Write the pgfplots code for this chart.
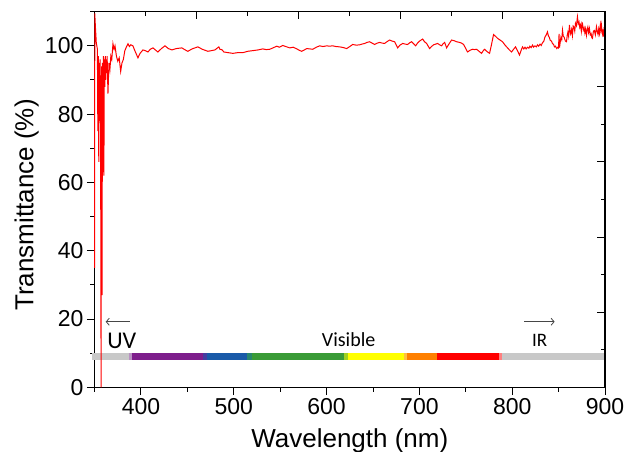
\documentclass[border=0pt]{standalone}
\usepackage{fontspec}
\setmainfont{Liberation Sans}
\newfontfamily\calibri{Carlito}
\usepackage{pgfplots}
\pgfplotsset{compat=1.18}
\usetikzlibrary{calc,arrows.meta}

\definecolor{bargray}{RGB}{200,200,200}
\definecolor{barlav}{RGB}{185,145,195}
\definecolor{barpurple}{RGB}{126,30,140}
\definecolor{barindigo}{RGB}{70,60,160}
\definecolor{barblue}{RGB}{26,90,168}
\definecolor{barteal}{RGB}{40,135,110}
\definecolor{bargreen}{RGB}{58,155,55}
\definecolor{barlime}{RGB}{160,208,32}
\definecolor{baryellow}{RGB}{255,255,0}
\definecolor{barlorange}{RGB}{255,192,64}
\definecolor{barorange}{RGB}{255,128,0}
\definecolor{barred}{RGB}{255,0,0}
\definecolor{barpink}{RGB}{255,128,128}
\definecolor{arrowgray}{RGB}{70,70,70}

\begin{document}
\begin{tikzpicture}
\begin{axis}[
    name=main, at={(0,0)}, anchor=south west,
    scale only axis, width=510.4pt, height=375.6pt,
    xmin=350, xmax=900, ymin=0, ymax=110,
    xtick={400,500,...,900}, minor xtick={350,450,...,850},
    ytick={0,20,...,100}, minor ytick={10,30,...,110},
    tick pos=left, tick align=outside,
    major tick length=7.7pt, minor tick length=4.3pt,
    every tick/.style={black,line width=1pt},
    axis line style={line width=1.3pt},
    tick label style={font=\fontsize{23}{26}\selectfont},
    /pgf/number format/assume math mode=true,
    xlabel={Wavelength (nm)}, ylabel={Transmittance (\%)},
    label style={font=\fontsize{26}{30}\selectfont},
    xlabel style={at={(axis description cs:0.5,-0.159)}, anchor=base},
    ylabel style={at={(axis description cs:-0.1201,0.4854)}, anchor=base},
    clip=false
]
    % spectrum bar
    \addplot[bargray,line width=7pt,forget plot] coordinates {(347.5,9)(386.7,9)};
    \addplot[barlav,line width=7pt,forget plot] coordinates {(386.7,9)(390.3,9)};
    \addplot[barpurple,line width=7pt,forget plot] coordinates {(390.3,9)(467,9)};
    \addplot[barindigo,line width=7pt,forget plot] coordinates {(467,9)(471,9)};
    \addplot[barblue,line width=7pt,forget plot] coordinates {(471,9)(514,9)};
    \addplot[barteal,line width=7pt,forget plot] coordinates {(514,9)(520,9)};
    \addplot[bargreen,line width=7pt,forget plot] coordinates {(520,9)(619,9)};
    \addplot[barlime,line width=7pt,forget plot] coordinates {(619,9)(623,9)};
    \addplot[baryellow,line width=7pt,forget plot] coordinates {(623,9)(683,9)};
    \addplot[barlorange,line width=7pt,forget plot] coordinates {(683,9)(686.5,9)};
    \addplot[barorange,line width=7pt,forget plot] coordinates {(686.5,9)(718.5,9)};
    \addplot[barred,line width=7pt,forget plot] coordinates {(718.5,9)(786,9)};
    \addplot[barpink,line width=7pt,forget plot] coordinates {(786,9)(789,9)};
    \addplot[bargray,line width=7pt,forget plot] coordinates {(789,9)(900,9)};

    \draw[arrowgray,line width=0.8pt,-{Straight Barb[length=3pt,width=7pt]}] (axis cs:388,19.2) -- (axis cs:362,19.2);
    \draw[arrowgray,line width=0.8pt,-{Straight Barb[length=3pt,width=7pt]}] (axis cs:813,19.2) -- (axis cs:845.7,19.2);
    \node[font=\calibri\fontsize{24}{28}\selectfont,anchor=base] at (axis cs:379.3,11.4) {UV};
    \node[font=\calibri\fontsize{20}{24}\selectfont,anchor=base] at (axis cs:623.8,12.0) {Visible};
    \node[font=\calibri\fontsize{19}{23}\selectfont,anchor=base] at (axis cs:829.5,12.0) {IR};

    % transmittance
    \addplot[red,line width=1pt] coordinates {
    (350.0,35) (350.2,109.5) (350.8,106) (351.8,101) (353.0,99) (353.5,75)
    (354.0,97) (354.5,66) (355.0,95) (355.5,78) (356.0,96) (356.5,70)
    (357.0,0) (357.5,94) (358.0,27) (358.5,95) (359.0,63) (359.5,97)
    (360.0,62) (360.5,96) (361.0,88) (361.5,97) (362.0,90) (362.5,96)
    (363.0,92) (363.5,97) (364.4,86) (365.5,95) (366.5,93) (367.5,97)
    (368.5,96) (369.8,100.6) (371,99) (372,100) (373.5,97) (375,95.5)
    (376.5,96.5) (378.1,92.5) (379.5,95) (381,96) (382.5,98.5) (384,99.5)
    (386,100.6) (387.5,99.8) (389,100.3) (391.3,100) (393.5,98.5) (396.7,96.5)
    (399,97.8) (402.1,98.8) (404.5,98.6) (407.5,98.2) (410,99) (412.9,99.4)
    (415.5,98.8) (418.2,98.2) (422,99.2) (425.8,100) (429.5,99.2) (433.3,98.8)
    (438,99.2) (444.1,99.4) (447,98.9) (450.5,98.4) (455,99.1) (461.3,99.7)
    (466,99) (472.1,98.4) (476,98.6) (479.6,98.8) (481.5,99.2) (483.9,99.7)
    (485,99) (487.1,98.9) (489.3,98.2) (494,98.0) (499.0,97.8) (504,98)
    (509.7,98) (515,98.4) (520.5,98.6) (526,98.8) (531.3,99.1) (535,98.9)
    (538.8,99) (543,99.5) (546.3,99.9) (549,99.6) (552.8,100.1) (557,99.7)
    (560.3,99.4) (564,99.6) (567.9,99.1) (570.5,98.7) (573.2,98.4) (576,98.8)
    (578.6,99.2) (582,99.1) (585.1,99.0) (589,99.6) (592.6,100.0) (596,99.8)
    (600.2,100) (603,99.9) (606.6,100) (610,99.8) (614.1,99.7) (618,99.5)
    (621.7,99.2) (625,99.8) (628.1,100.4) (632,100.2) (635.6,100.3) (638,100.5)
    (641.0,100.7) (643.5,101) (646.4,101.2) (649,100.8) (651.8,100.4) (654.5,100.8)
    (657.2,101) (660,100.8) (662.5,100.7) (665,101.2) (667.9,101.7) (670.5,101.4)
    (673.3,101.2) (676.6,99.4) (679,100.2) (682.0,100.7) (685,100.5) (687.3,100.4)
    (689.5,100.9) (691.6,101.2) (693.8,100.6) (695.9,100.0) (698,100.8) (700.2,101.4)
    (703.5,102) (705.5,101.2) (707.8,100.7) (709.5,99.9) (711.0,99.2) (713,99.8)
    (715.3,100.3) (717.5,100.5) (719.6,100.7) (721.8,100.3) (723.9,100) (725.5,100.6)
    (727.2,101) (728.3,100.2) (729.3,99.4) (732,100.6) (734.7,101.7) (737.5,101.5)
    (740.1,101.2) (743.3,101) (745.5,100.8) (747.6,100.4) (749.8,99.3) (751.9,98.2)
    (754.5,98.7) (757.3,99) (759.5,98.9) (761.6,99) (764.3,98.4) (767.0,97.8)
    (768.6,98.5) (770.2,99) (773,98.3) (775.6,97.8) (777.8,100.5) (779.9,103.3)
    (782,102.8) (784.2,102.2) (786.9,101.7) (789.6,101.2) (792.3,100.2) (795.0,99.4)
    (797,98.8) (799.3,98.2) (801.5,99) (803.6,99.7) (805.8,98.5) (807.9,97.3)
    (809.5,98.6) (811.1,99.7) (812.5,99.1) (813.8,99.6) (815,99.1) (816.5,99.6)
    (818,99.3) (819,99.9) (820.5,99.5) (821.9,100.2) (823,99.6) (824.5,100.0)
    (826,99.7) (827.3,100.3) (828.5,99.9) (830,100.5) (831.3,100.1) (832.6,100.9)
    (834,101.3) (835.3,102.6) (836.5,103.1) (838.0,104.1) (839,102.9) (840,102.5)
    (841,101.6) (842.3,101.4) (843.5,100.6) (844.5,100.5) (845.5,99.7) (846.6,99.9)
    (848,99.2) (849.3,99.6) (849.9,99.4) (850.5,103.5) (851,99.5) (852,101.6)
    (852.5,102.5) (853.4,101.8) (854.2,104.6) (855,102.9) (856,102.5) (857.3,101.4)
    (858.5,101.2) (859.3,103.1) (860,104) (860.8,102.8) (861.7,106.1) (862.4,104.2)
    (863,103.5) (864,104.8) (864.9,103) (865.7,105.8) (866.5,105.5) (867.4,104.3)
    (868.2,106.6) (869.2,105.9) (870.3,108.5) (871.2,106.5) (872,107) (872.8,105.4)
    (873.6,106.1) (874.5,104.3) (875.2,106.8) (875.7,106.6) (876.6,104.6) (877.5,105.3)
    (878.3,103.8) (879.1,105.0) (880.0,103.1) (880.8,104.8) (881.5,105.5) (882.3,103.9)
    (883.2,105.1) (884.1,103.2) (885,103.6) (885.8,102.4) (886.5,102.2) (887.5,104.3)
    (888.5,104.5) (889.6,103.2) (890.8,105.6) (891.7,104.1) (892.5,103.3) (893.2,104.9)
    (894.0,103.6) (894.6,105.3) (895,106.2) (895.6,104.6) (896.2,106) (896.8,104.2)
    (897.3,103.5) (897.8,104.8) (898.3,102.7) (898.8,104.1) (899.2,105.5) (899.6,103.9)
    (900,104.6)
    };
\end{axis}
\begin{axis}[
    at={(0,0)}, anchor=south west,
    scale only axis, width=510.4pt, height=375.6pt,
    xmin=0, xmax=10, ymin=0, ymax=100,
    axis x line*=top, axis y line*=right,
    axis line style={line width=1.3pt,-},
    xtick={2,4,6,8}, minor xtick={1,3,5,7,9},
    ytick={20,40,60,80}, minor ytick={10,30,50,70,90},
    xticklabels={}, yticklabels={},
    tick align=inside,
    major tick length=7.7pt, minor tick length=4.3pt,
    every tick/.style={black,line width=1pt}
]
\end{axis}
\pgfresetboundingbox
\path[use as bounding box] ($(main.south west)+(-94.6pt,-64.7pt)$) rectangle ($(main.north east)+(21pt,11.7pt)$);
\end{tikzpicture}
\end{document}
